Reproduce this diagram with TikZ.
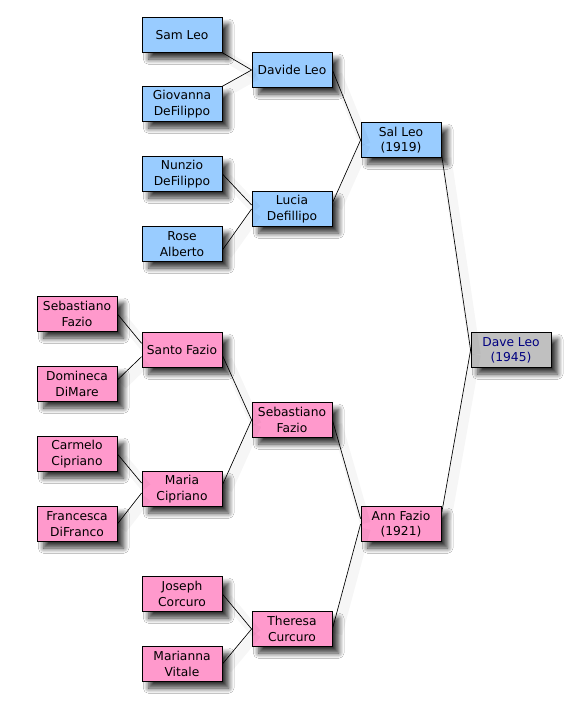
\documentclass[tikz,border=0pt]{standalone}
\usepackage{fontspec}
\setmainfont{DejaVu Sans}
\usetikzlibrary{shadows.blur}
\definecolor{leoblue}{HTML}{99CCFF}
\definecolor{faziopink}{HTML}{FF99CC}
\definecolor{selfgray}{HTML}{C0C0C0}
\definecolor{selftext}{HTML}{000080}
\tikzstyle{person} = [
rectangle,
draw=black,
line width=0.6pt,
text=black,
text centered,
align=center,
minimum width=60pt,
minimum height=26pt,
inner sep=1pt,
font=\fontsize{9.2}{11.5}\selectfont,
blur shadow={shadow xshift=5pt, shadow yshift=-5pt, shadow blur radius=4pt, shadow blur steps=10, shadow opacity=80}]
\tikzstyle{leo} = [person, fill=leoblue]
\tikzstyle{fazio} = [person, fill=faziopink]
\tikzstyle{self} = [person, fill=selfgray, text=selftext]
\tikzstyle{link} = [
draw=black,
line width=0.5pt,
preaction={draw=black, opacity=0.035, line width=8pt, transform canvas={xshift=3.5pt, yshift=-3.5pt}}]

\begin{document}
\begin{tikzpicture}[x=0.75pt, y=-0.75pt]
\useasboundingbox[fill=white] (0,0) rectangle (575,707);

% Leo side
\node[leo] (samLeo) at (182,35) {Sam Leo};
\node[leo] (giovanna) at (182,104) {Giovanna\\DeFilippo};
\node[leo] (nunzio) at (182,174) {Nunzio\\DeFilippo};
\node[leo] (rose) at (182,244) {Rose\\Alberto};
\node[leo] (davide) at (292,70) {Davide Leo};
\node[leo] (lucia) at (292,209) {Lucia\\Defillipo};
\node[leo] (salLeo) at (401,140) {Sal Leo\\(1919)};

% Fazio side
\node[fazio] (sebastianoOld) at (77,314) {Sebastiano\\Fazio};
\node[fazio] (domineca) at (77,384) {Domineca\\DiMare};
\node[fazio] (carmelo) at (77,454) {Carmelo\\Cipriano};
\node[fazio] (francesca) at (77,524) {Francesca\\DiFranco};
\node[fazio] (santo) at (182,350) {Santo Fazio};
\node[fazio] (maria) at (182,489) {Maria\\Cipriano};
\node[fazio] (joseph) at (182,594) {Joseph\\Corcuro};
\node[fazio] (marianna) at (182,664) {Marianna\\Vitale};
\node[fazio] (sebastiano) at (292,420) {Sebastiano\\Fazio};
\node[fazio] (theresa) at (292,629) {Theresa\\Curcuro};
\node[fazio] (annFazio) at (401,524) {Ann Fazio\\(1921)};

\node[self] (daveLeo) at (511,350) {Dave Leo\\(1945)};

\draw[link] (samLeo.south east) -- (davide.west);
\draw[link] (giovanna.north east) -- (davide.west);
\draw[link] (nunzio.east) -- ([yshift=3pt]lucia.west);
\draw[link] ([yshift=-4.5pt]rose.east) -- (lucia.west);
\draw[link] (davide.east) -- (salLeo.west);
\draw[link] ([yshift=4.5pt]lucia.east) -- (salLeo.west);
\draw[link] ([yshift=-10pt]salLeo.east) -- (daveLeo.west);

\draw[link] (sebastianoOld.east) -- ([yshift=5pt]santo.west);
\draw[link] ([yshift=3pt]domineca.east) -- ([yshift=-5pt]santo.west);
\draw[link] (carmelo.east) -- ([yshift=4.5pt]maria.west);
\draw[link] (francesca.east) -- ([yshift=-3pt]maria.west);
\draw[link] ([yshift=-4pt]santo.east) -- (sebastiano.west);
\draw[link] ([yshift=3pt]maria.east) -- (sebastiano.west);
\draw[link] (joseph.east) -- (theresa.west);
\draw[link] (marianna.east) -- (theresa.west);
\draw[link] (sebastiano.east) -- ([yshift=4pt]annFazio.west);
\draw[link] (theresa.east) -- (annFazio.west);
\draw[link] ([yshift=7pt]annFazio.east) -- (daveLeo.west);

\end{tikzpicture}
\end{document}
